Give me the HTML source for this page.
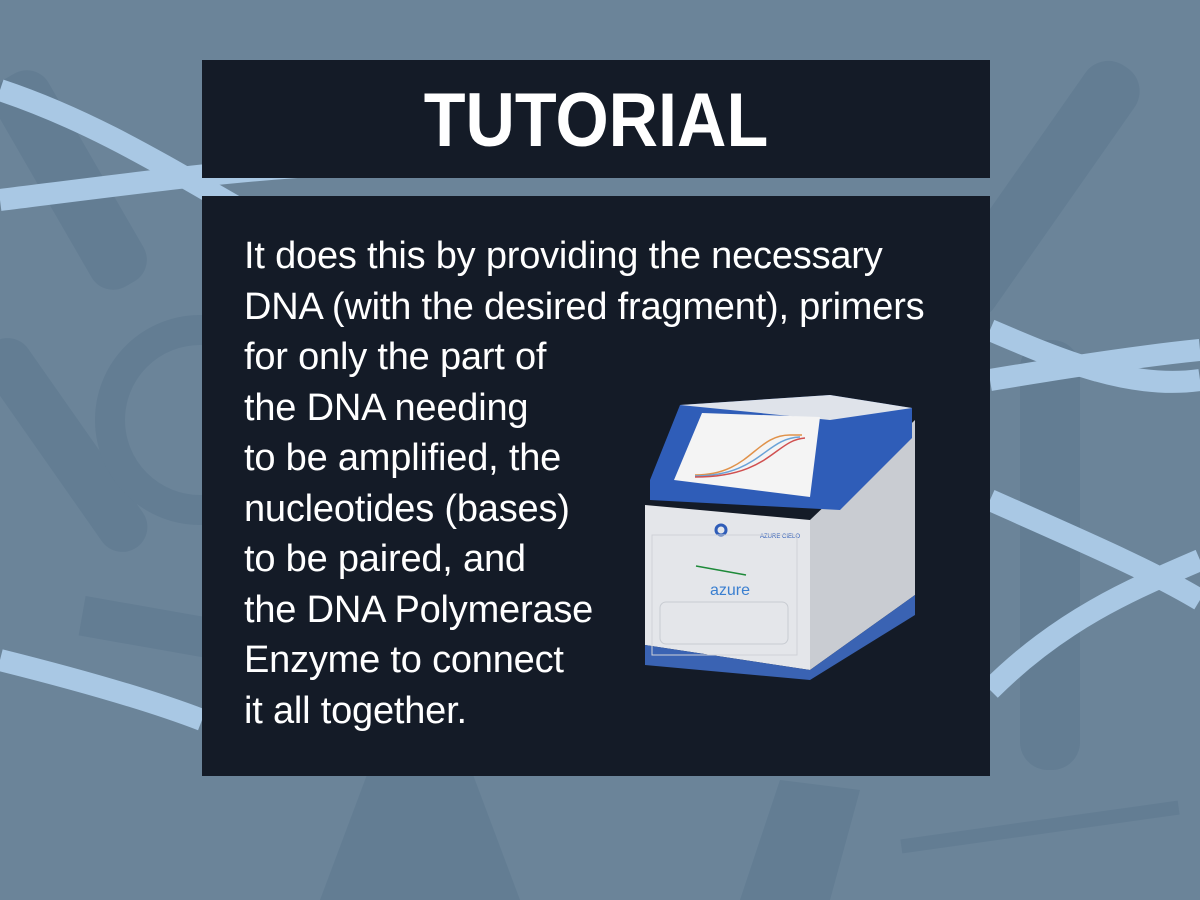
<!DOCTYPE html>
<html><head><meta charset="utf-8"><style>
body{margin:0;width:1200px;height:900px;overflow:hidden;background:#6b8499;font-family:"Liberation Sans",sans-serif}
#bg{position:absolute;left:0;top:0}
.box{position:absolute;background:#141b27;left:202px;width:788px}
#title{top:60px;height:118px}
#title span{position:absolute;left:0;width:788px;top:0;color:#fff;font-weight:bold;font-size:76px;text-align:center;line-height:122px;transform:scaleX(0.9)}
#body{top:196px;height:580px}
#text{position:absolute;left:244px;top:231px;color:#fff;font-size:38px;line-height:50.5px;white-space:pre;letter-spacing:-0.2px}
#dev{position:absolute;left:630px;top:380px}
</style></head><body>
<svg id="bg" width="1200" height="900">
<g fill="#637d93">
<rect x="40" y="60" width="60" height="240" rx="25" transform="rotate(-30 70 180)"/>
<rect x="40" y="320" width="50" height="250" rx="25" transform="rotate(-35 65 445)"/>
<circle cx="200" cy="420" r="90" fill="none" stroke="#637d93" stroke-width="30"/>
<rect x="1020" y="340" width="60" height="430" rx="28"/>
<rect x="1010" y="40" width="60" height="300" rx="28" transform="rotate(35 1040 190)"/>
<rect x="80" y="620" width="280" height="40" transform="rotate(10 220 640)"/>
<rect x="900" y="820" width="280" height="14" transform="rotate(-8 1040 827)"/>
<polygon points="320,900 380,740 460,740 520,900"/>
<polygon points="740,900 780,780 860,790 830,900"/>
</g>
<g fill="none" stroke="#a9c8e4" stroke-width="22">
<path d="M0,90 C150,140 250,230 420,300"/>
<path d="M0,200 C120,185 230,170 330,165"/>
<path d="M990,330 C1060,360 1130,390 1200,380"/>
<path d="M990,380 C1080,365 1150,355 1200,350"/>
<path d="M0,660 C80,680 150,700 202,720"/>
<path d="M990,690 C1060,620 1130,590 1200,560"/>
<path d="M990,500 C1080,540 1150,570 1200,600"/>
</g>
</svg>
<div class="box" id="title"><span>TUTORIAL</span></div>
<div class="box" id="body"></div>
<div id="text">It does this by providing the necessary
DNA (with the desired fragment), primers
for only the part of
the DNA needing
to be amplified, the
nucleotides (bases)
to be paired, and
the DNA Polymerase
Enzyme to connect
it all together.</div>
<svg id="dev" width="300" height="300">
<polygon points="180,140 285,40 285,215 180,290" fill="#c9ccd2"/>
<polygon points="15,125 180,140 180,290 15,265" fill="#e4e6ea"/>
<polygon points="15,265 180,290 285,215 285,235 180,300 15,285" fill="#3a63b3"/>
<polygon points="20,100 50,25 200,15 282,28 282,58 210,130 20,120" fill="#2f5db8"/>
<polygon points="50,25 200,15 282,28 200,40" fill="#dfe3ea"/>
<polygon points="72,33 190,37 180,117 44,100" fill="#f4f4f4"/>
<g fill="none" stroke-width="1.5">
<path d="M65,95 C120,95 125,55 160,55 L172,55" stroke="#e0924a"/>
<path d="M65,96 C130,96 135,58 170,57" stroke="#6aa3d8"/>
<path d="M65,97 C140,97 145,60 175,58" stroke="#d05050"/>
</g>
<circle cx="91" cy="150" r="5" fill="none" stroke="#2f5db8" stroke-width="3"/>
<text x="130" y="158" font-size="6" fill="#2f5db8" font-family="Liberation Sans">AZURE CIELO</text>
<rect x="22" y="155" width="145" height="120" fill="none" stroke="#cfd2d8"/>
<line x1="66" y1="186" x2="116" y2="195" stroke="#1e8a3a" stroke-width="1.5"/>
<text x="80" y="215" font-size="16" fill="#3a7fd0" font-family="Liberation Sans">azure</text>
<rect x="30" y="222" width="128" height="42" rx="6" fill="none" stroke="#c8ccd2"/>
</svg>
</body></html>
